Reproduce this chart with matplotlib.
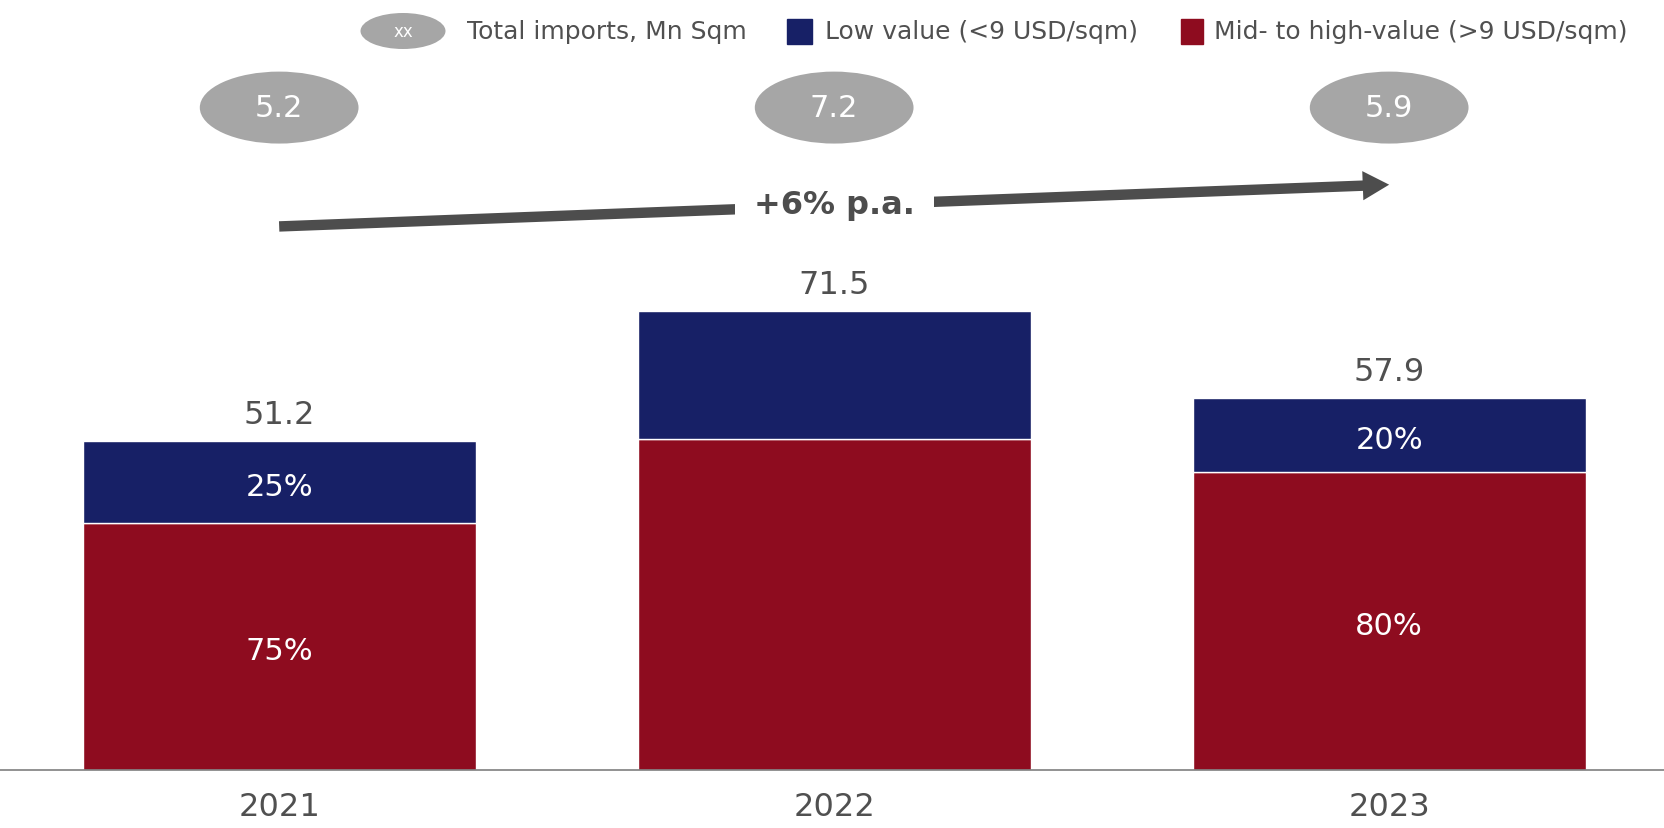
import matplotlib.pyplot as plt
from matplotlib.patches import Ellipse, Rectangle

years = ["2021", "2022", "2023"]
totals = [51.2, 71.5, 57.9]            # stacked bar height
low_share = [25, 28, 20]              # % of total below 9 USD/sqm
share_labels = [True, False, True]    # 2022 split shown without labels
volumes = ["5.2", "7.2", "5.9"]       # total imports, Mn Sqm
cagr = "+6% p.a."

blue = "#172066"
red = "#8e0c1f"
grey = "#a6a6a6"
txt = "#505050"

plt.rcParams["font.family"] = ["DejaVu Sans"]

fig = plt.figure(figsize=(16.65, 8.29), dpi=100)
ax = fig.add_axes([0, 58 / 829, 1, 771 / 829])

x = list(range(len(years)))
low = [t * s / 100 for t, s in zip(totals, low_share)]
high = [t - l for t, l in zip(totals, low)]

ax.bar(x, high, width=0.708, color=red, edgecolor="white", linewidth=1)
ax.bar(x, low, bottom=high, width=0.708, color=blue, edgecolor="white", linewidth=1)

for i in x:
    ax.annotate(f"{totals[i]:.1f}", (i, totals[i]), xytext=(0, 8), textcoords="offset points",
                ha="center", va="bottom", fontsize=23, color=txt)
    if share_labels[i]:
        ax.text(i, high[i] / 2 - 0.6, f"{100 - low_share[i]}%", ha="center", va="center",
                fontsize=22, color="white")
        ax.text(i, high[i] + low[i] / 2 - 0.6, f"{low_share[i]}%", ha="center", va="center",
                fontsize=22, color="white")

# volume bubbles above the bars
for i in x:
    ax.add_patch(Ellipse((i, 103.1), 0.286, 11.2, color=grey, lw=0))
    ax.text(i, 103.1, volumes[i], ha="center", va="center", fontsize=22, color="white")

# growth arrow
ax.annotate("", xy=(2.0, 91.1), xytext=(0, 84.6),
            arrowprops=dict(width=7.5, headwidth=21, headlength=19, color="#4d4d4d",
                            lw=0, shrink=0))
ax.text(1, 88.0, cagr, ha="center", va="center", fontsize=23, fontweight="bold", color="#4d4d4d",
        bbox=dict(boxstyle="square,pad=0.6", fc="white", ec="none"))

ax.set_xlim(-0.503, 2.497)
ax.set_ylim(0, 120)
ax.set_xticks(x)
ax.set_xticklabels(years, fontsize=23, color=txt)
ax.tick_params(axis="x", length=0, pad=15)
ax.set_yticks([])
for s in ["top", "left", "right"]:
    ax.spines[s].set_visible(False)
ax.spines["bottom"].set_color("#7f7f7f")
ax.spines["bottom"].set_linewidth(1.2)

# legend row across the top
W, H = 1665, 829
ly = 1 - 32 / H
fig.patches.append(Ellipse((403 / W, ly), 85 / W, 36 / H, color=grey, lw=0,
                           transform=fig.transFigure, figure=fig))
fig.text(403 / W, ly, "xx", ha="center", va="center", fontsize=12, color="white")
fig.text(467 / W, ly, "Total imports, Mn Sqm", ha="left", va="center", fontsize=18, color=txt)
fig.patches.append(Rectangle((787 / W, ly - 12.5 / H), 25 / W, 25 / H, color=blue,
                             transform=fig.transFigure, figure=fig))
fig.text(825 / W, ly, "Low value (<9 USD/sqm)", ha="left", va="center", fontsize=18, color=txt)
fig.patches.append(Rectangle((1181 / W, ly - 12.5 / H), 22 / W, 25 / H, color=red,
                             transform=fig.transFigure, figure=fig))
fig.text(1214 / W, ly, "Mid- to high-value (>9 USD/sqm)", ha="left", va="center", fontsize=18, color=txt)

fig.savefig("out.png", dpi=100)
